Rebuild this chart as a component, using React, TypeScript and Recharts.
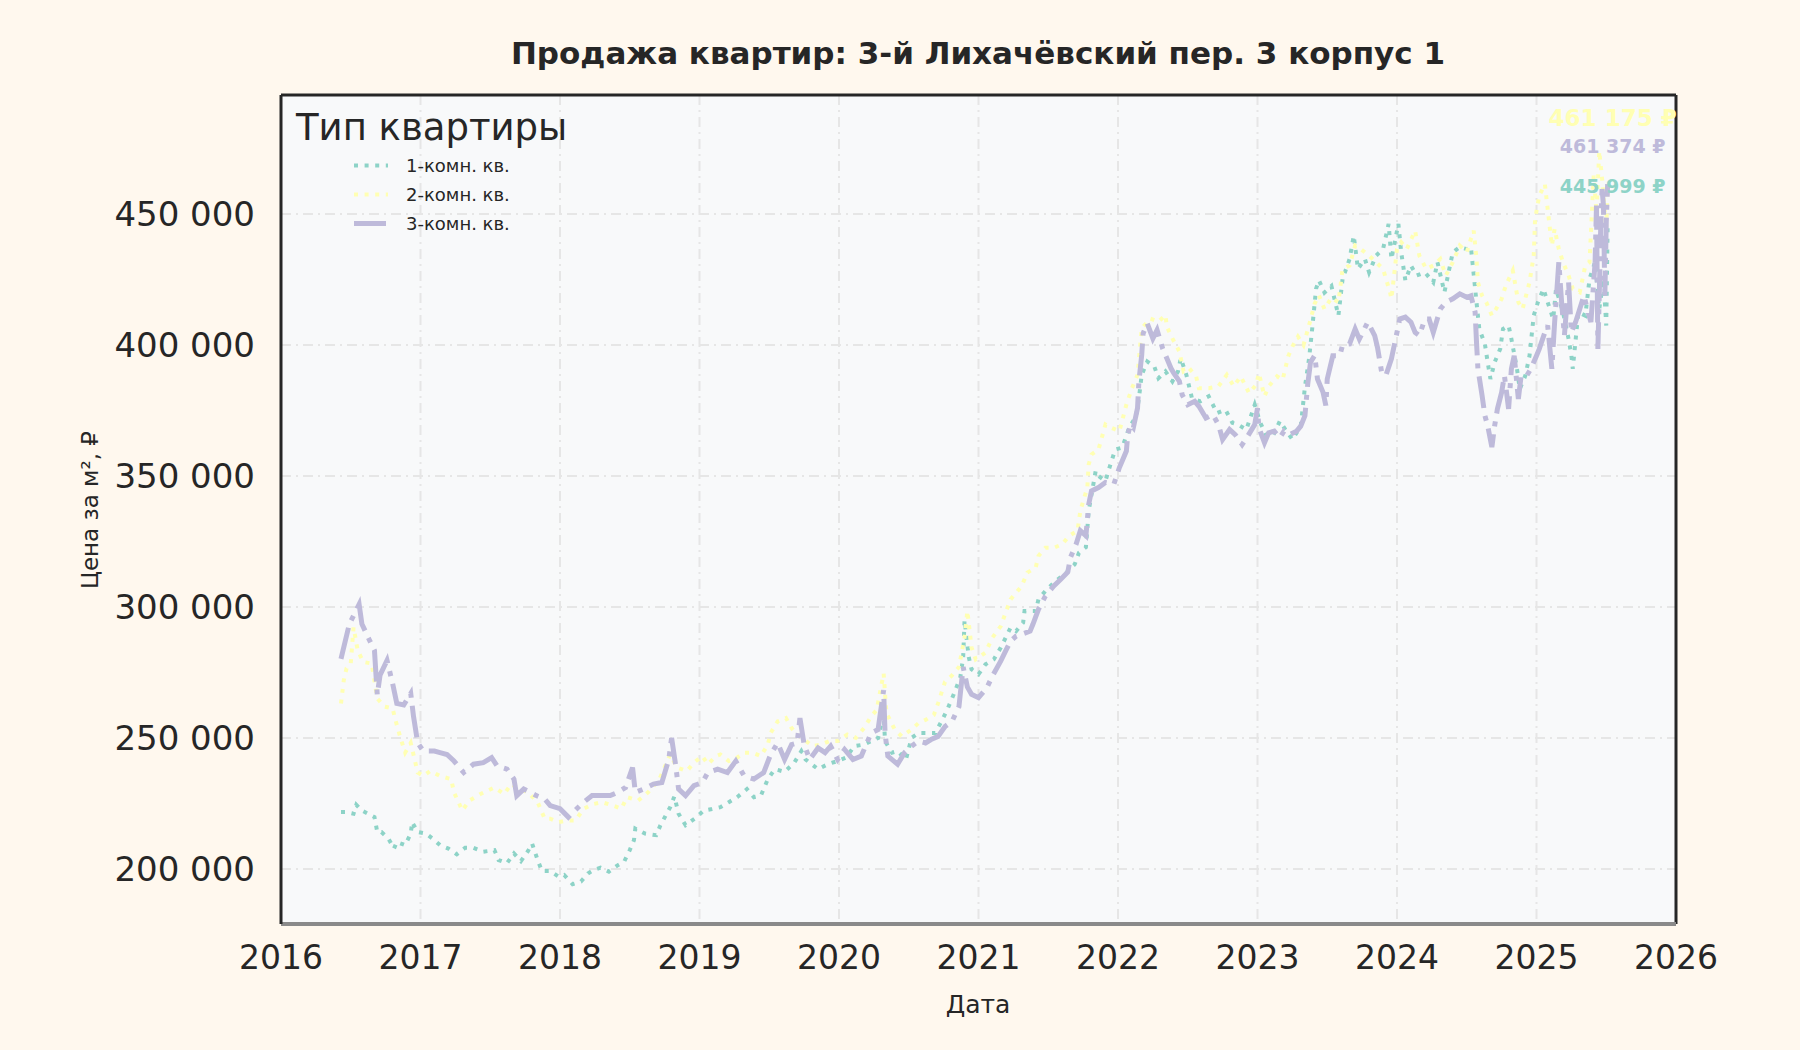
import { LineChart, Line, XAxis, YAxis, CartesianGrid, ReferenceLine } from "recharts";

const FONT = "'DejaVu Sans', sans-serif";

const YEAR_TICKS = [2016, 2017, 2018, 2019, 2020, 2021, 2022, 2023, 2024, 2025, 2026];
const PRICE_TICKS = [200000, 250000, 300000, 350000, 400000, 450000];
const X_DOMAIN = [2016, 2026];
const Y_DOMAIN = [179000, 495400];

// 1-комн. кв.
const oneRoomDates = [
  2016.43, 2016.47, 2016.52, 2016.54, 2016.58, 2016.67, 2016.69, 2016.72, 2016.77, 2016.81, 2016.83, 2016.89,
  2016.93, 2016.94, 2016.98, 2017.04, 2017.1, 2017.14, 2017.2, 2017.26, 2017.32, 2017.38, 2017.45, 2017.53,
  2017.56, 2017.62, 2017.67, 2017.72, 2017.77, 2017.8, 2017.84, 2017.87, 2017.93, 2017.99, 2018.03, 2018.09,
  2018.15, 2018.2, 2018.24, 2018.29, 2018.35, 2018.41, 2018.46, 2018.5, 2018.53, 2018.54, 2018.61, 2018.69,
  2018.72, 2018.79, 2018.82, 2018.85, 2018.9, 2018.98, 2019.03, 2019.09, 2019.15, 2019.21, 2019.27, 2019.34,
  2019.39, 2019.44, 2019.49, 2019.54, 2019.61, 2019.68, 2019.73, 2019.76, 2019.85, 2019.92, 2019.99, 2020.05,
  2020.11, 2020.18, 2020.23, 2020.28, 2020.32, 2020.33, 2020.38, 2020.42, 2020.48, 2020.52, 2020.57, 2020.63,
  2020.69, 2020.74, 2020.78, 2020.83, 2020.87, 2020.89, 2020.9, 2020.93, 2020.95, 2021.0, 2021.05, 2021.11,
  2021.16, 2021.23, 2021.27, 2021.32, 2021.33, 2021.41, 2021.43, 2021.48, 2021.54, 2021.63, 2021.69, 2021.72,
  2021.77, 2021.79, 2021.84, 2021.86, 2021.91, 2021.95, 2021.98, 2022.03, 2022.08, 2022.13, 2022.15, 2022.17,
  2022.21, 2022.26, 2022.29, 2022.34, 2022.39, 2022.43, 2022.45, 2022.49, 2022.53, 2022.59, 2022.65, 2022.71,
  2022.77, 2022.82, 2022.86, 2022.92, 2022.98, 2023.02, 2023.06, 2023.11, 2023.16, 2023.2, 2023.25, 2023.31,
  2023.34, 2023.37, 2023.39, 2023.42, 2023.44, 2023.48, 2023.53, 2023.58, 2023.61, 2023.66, 2023.69, 2023.72,
  2023.77, 2023.8, 2023.85, 2023.9, 2023.94, 2023.96, 2024.01, 2024.03, 2024.06, 2024.1, 2024.14, 2024.2,
  2024.26, 2024.29, 2024.34, 2024.4, 2024.45, 2024.5, 2024.53, 2024.57, 2024.59, 2024.63, 2024.65, 2024.67,
  2024.7, 2024.74, 2024.76, 2024.8, 2024.82, 2024.86, 2024.88, 2024.92, 2024.95, 2024.98, 2025.01, 2025.05,
  2025.08, 2025.12, 2025.14, 2025.19, 2025.23, 2025.25, 2025.26, 2025.3, 2025.35, 2025.38, 2025.42, 2025.45,
  2025.48, 2025.5, 2025.51,
];
const oneRoomPrices = [
  221700, 221700, 221100, 224500, 222300, 219800, 214100, 214100, 211600, 207800, 210300, 209100,
  213500, 217900, 214100, 213500, 211000, 209100, 207800, 205600, 208100, 208100, 206600, 207200,
  203400, 202200, 205900, 203000, 206800, 209700, 203400, 199200, 199200, 197100, 197700, 194200,
  195200, 198300, 199600, 200500, 199000, 201300, 202800, 207200, 211000, 215400, 213500, 212900,
  216700, 223600, 227700, 221100, 216700, 219800, 222300, 222900, 223600, 225500, 227400, 230500,
  227400, 228000, 234300, 238100, 237100, 240600, 245000, 241800, 238100, 240000, 241200, 242500,
  246900, 247500, 248800, 250000, 258800, 248800, 244400, 245000, 241800, 250000, 251900, 251900,
  251900, 256900, 261300, 267600, 273300, 280700, 295000, 280900, 276200, 274300, 278100, 280000,
  284500, 292100, 290800, 294000, 298500, 298500, 302900, 306100, 309300, 313100, 316300, 320700,
  322800, 336700, 351900, 350000, 348100, 355100, 360100, 360800, 368400, 372800, 379700, 388600,
  393700, 391800, 387300, 389900, 386100, 389900, 394900, 388600, 379700, 378500, 380400, 374000,
  375300, 370300, 369600, 367700, 377200, 370300, 365800, 365200, 370900, 367700, 363900, 369000,
  384000, 395000, 405100, 421500, 424700, 420000, 422500, 411200, 425200, 432800, 441700, 429000,
  432800, 427700, 434100, 436600, 446200, 432800, 446200, 435400, 424600, 430300, 426500, 427700,
  423900, 431600, 420100, 435400, 437300, 436600, 437300, 416300, 406100, 400400, 393400, 387000,
  393400, 398500, 406100, 407400, 402300, 390900, 383200, 388300, 395900, 411200, 416300, 421400,
  416300, 409900, 421400, 412500, 402300, 395900, 390900, 412500, 411200, 425200, 431600, 413700,
  425200, 407400, 445999,
];

// 2-комн. кв.
const twoRoomDates = [
  2016.43, 2016.45, 2016.47, 2016.5, 2016.52, 2016.55, 2016.59, 2016.65, 2016.69, 2016.74, 2016.8, 2016.82,
  2016.86, 2016.89, 2016.93, 2016.98, 2017.02, 2017.07, 2017.14, 2017.22, 2017.24, 2017.3, 2017.35, 2017.43,
  2017.53, 2017.6, 2017.65, 2017.69, 2017.77, 2017.84, 2017.89, 2017.93, 2017.99, 2018.05, 2018.11, 2018.17,
  2018.24, 2018.3, 2018.38, 2018.44, 2018.48, 2018.56, 2018.63, 2018.71, 2018.79, 2018.84, 2018.91, 2018.96,
  2019.02, 2019.06, 2019.12, 2019.15, 2019.21, 2019.27, 2019.32, 2019.38, 2019.44, 2019.49, 2019.51, 2019.56,
  2019.62, 2019.66, 2019.7, 2019.75, 2019.81, 2019.87, 2019.93, 2019.99, 2020.06, 2020.12, 2020.18, 2020.23,
  2020.27, 2020.32, 2020.34, 2020.4, 2020.45, 2020.52, 2020.57, 2020.62, 2020.68, 2020.71, 2020.76, 2020.81,
  2020.86, 2020.9, 2020.92, 2020.95, 2020.98, 2021.05, 2021.1, 2021.16, 2021.19, 2021.23, 2021.25, 2021.31,
  2021.35, 2021.41, 2021.43, 2021.48, 2021.54, 2021.6, 2021.65, 2021.71, 2021.73, 2021.78, 2021.79, 2021.81,
  2021.86, 2021.91, 2021.95, 2022.01, 2022.06, 2022.1, 2022.14, 2022.17, 2022.23, 2022.29, 2022.34, 2022.35,
  2022.39, 2022.44, 2022.47, 2022.51, 2022.56, 2022.58, 2022.65, 2022.72, 2022.78, 2022.83, 2022.88, 2022.94,
  2022.99, 2023.01, 2023.05, 2023.08, 2023.14, 2023.18, 2023.22, 2023.25, 2023.29, 2023.33, 2023.37, 2023.41,
  2023.44, 2023.48, 2023.53, 2023.58, 2023.61, 2023.66, 2023.7, 2023.74, 2023.8, 2023.85, 2023.9, 2023.95,
  2023.96, 2024.0, 2024.03, 2024.07, 2024.13, 2024.16, 2024.21, 2024.26, 2024.31, 2024.35, 2024.4, 2024.45,
  2024.5, 2024.53, 2024.55, 2024.57, 2024.58, 2024.61, 2024.64, 2024.68, 2024.71, 2024.75, 2024.78, 2024.83,
  2024.87, 2024.9, 2024.95, 2024.98, 2024.99, 2025.02, 2025.06, 2025.08, 2025.11, 2025.13, 2025.16, 2025.19,
  2025.23, 2025.26, 2025.31, 2025.35, 2025.38, 2025.41, 2025.43, 2025.45, 2025.47, 2025.5, 2025.51,
];
const twoRoomPrices = [
  263200, 272000, 276600, 278400, 292200, 283400, 279000, 278400, 265100, 262000, 261300, 256900,
  249400, 244400, 248100, 236800, 235500, 237400, 235500, 234300, 229200, 222300, 226100, 228600,
  231100, 228600, 232400, 231100, 229200, 225500, 219200, 219200, 217900, 218500, 218500, 223000,
  224800, 225500, 224200, 223000, 227400, 226100, 229200, 234000, 243700, 238700, 237400, 240600,
  243100, 240000, 243100, 243700, 241200, 242500, 244400, 244400, 243100, 247500, 251900, 256300,
  257600, 253800, 251300, 249400, 246900, 247500, 248800, 248800, 251300, 250000, 253800, 258200,
  260700, 274600, 259500, 253200, 250600, 253200, 255700, 256900, 258800, 263200, 271400, 273900,
  277100, 288400, 298500, 284600, 280000, 282600, 288300, 292700, 297200, 302900, 304200, 308000,
  313100, 315000, 319500, 322600, 322600, 323900, 327200, 329100, 336700, 345600, 354400, 358200,
  360100, 369600, 368400, 367100, 377200, 383500, 388600, 406300, 410100, 408900, 411400, 407000,
  402500, 397500, 389900, 391100, 388000, 383500, 383500, 384200, 388600, 384200, 388000, 381600,
  384800, 389200, 380400, 384200, 388000, 386700, 395600, 399400, 403200, 400000, 407600, 415800,
  419000, 413700, 418000, 416300, 429000, 430300, 437900, 436600, 434100, 431600, 429000, 420100,
  417600, 436600, 439200, 436600, 443600, 434100, 429000, 430300, 432800, 426500, 431600, 437900,
  435400, 440500, 443600, 432800, 423900, 418800, 416300, 411200, 413700, 417600, 422700, 428400,
  416300, 413700, 423900, 434100, 448100, 457000, 461400, 451900, 437900, 444300, 436600, 431600,
  426500, 421400, 420100, 430300, 431600, 464600, 450600, 474000, 463400, 444300, 461175,
];

// 3-комн. кв.
const threeRoomDates = [
  2016.43, 2016.49, 2016.56, 2016.58, 2016.63, 2016.67, 2016.69, 2016.71, 2016.76, 2016.8, 2016.83, 2016.88,
  2016.93, 2016.95, 2016.98, 2017.02, 2017.1, 2017.14, 2017.19, 2017.24, 2017.31, 2017.38, 2017.45, 2017.51,
  2017.55, 2017.62, 2017.67, 2017.69, 2017.74, 2017.79, 2017.83, 2017.89, 2017.93, 2018.0, 2018.06, 2018.12,
  2018.17, 2018.23, 2018.29, 2018.36, 2018.41, 2018.47, 2018.52, 2018.54, 2018.6, 2018.67, 2018.73, 2018.78,
  2018.8, 2018.83, 2018.85, 2018.9, 2018.96, 2019.02, 2019.06, 2019.13, 2019.2, 2019.26, 2019.32, 2019.39,
  2019.46, 2019.51, 2019.56, 2019.61, 2019.66, 2019.7, 2019.72, 2019.75, 2019.79, 2019.85, 2019.9, 2019.94,
  2019.99, 2020.04, 2020.1, 2020.16, 2020.23, 2020.28, 2020.32, 2020.33, 2020.35, 2020.42, 2020.47, 2020.52,
  2020.57, 2020.62, 2020.66, 2020.71, 2020.76, 2020.81, 2020.86, 2020.89, 2020.92, 2020.95, 2021.0, 2021.06,
  2021.1, 2021.16, 2021.2, 2021.23, 2021.27, 2021.31, 2021.37, 2021.39, 2021.43, 2021.48, 2021.54, 2021.59,
  2021.64, 2021.66, 2021.7, 2021.73, 2021.77, 2021.79, 2021.81, 2021.86, 2021.91, 2021.97, 2022.01, 2022.03,
  2022.06, 2022.07, 2022.09, 2022.11, 2022.14, 2022.15, 2022.17, 2022.18, 2022.21, 2022.25, 2022.28, 2022.32,
  2022.35, 2022.38, 2022.4, 2022.44, 2022.46, 2022.5, 2022.55, 2022.58, 2022.63, 2022.68, 2022.72, 2022.75,
  2022.8, 2022.84, 2022.89, 2022.93, 2022.98, 2023.0, 2023.01, 2023.05, 2023.08, 2023.12, 2023.16, 2023.19,
  2023.23, 2023.28, 2023.31, 2023.34, 2023.36, 2023.38, 2023.41, 2023.43, 2023.47, 2023.49, 2023.5, 2023.54,
  2023.59, 2023.61, 2023.66, 2023.7, 2023.73, 2023.79, 2023.84, 2023.86, 2023.89, 2023.92, 2023.96, 2023.98,
  2024.02, 2024.06, 2024.1, 2024.13, 2024.16, 2024.2, 2024.23, 2024.26, 2024.31, 2024.35, 2024.4, 2024.45,
  2024.5, 2024.53, 2024.56, 2024.57, 2024.58, 2024.61, 2024.63, 2024.65, 2024.68, 2024.7, 2024.72, 2024.75,
  2024.77, 2024.8, 2024.82, 2024.84, 2024.87, 2024.89, 2024.93, 2024.96, 2025.0, 2025.02, 2025.06, 2025.08,
  2025.11, 2025.13, 2025.16, 2025.18, 2025.2, 2025.23, 2025.25, 2025.28, 2025.31, 2025.34, 2025.37, 2025.39,
  2025.42, 2025.43, 2025.44, 2025.45, 2025.46, 2025.47, 2025.48, 2025.49, 2025.5, 2025.51,
];
const threeRoomPrices = [
  280200, 293500, 301000, 293500, 287800, 283400, 266400, 274000, 279600, 270800, 263200, 262600,
  267000, 258200, 248100, 245000, 245000, 244400, 243700, 241200, 236800, 240000, 240600, 242500,
  239300, 238100, 234300, 228000, 230500, 229200, 228000, 226700, 224200, 223000, 219800, 223000,
  225500, 228000, 228000, 228000, 229200, 231100, 238700, 229200, 230500, 232400, 233000, 241800,
  250000, 239300, 230500, 228000, 231800, 233000, 236800, 238100, 236800, 241200, 235500, 234300,
  236800, 243700, 248100, 241800, 247500, 248100, 257600, 247500, 241800, 246200, 244400, 246900,
  241800, 245600, 241800, 243100, 251900, 253200, 268300, 251900, 243100, 240000, 244400, 246900,
  248800, 248100, 249400, 250600, 254400, 256300, 262000, 277100, 269500, 266700, 265400, 269200,
  273700, 279400, 283800, 287000, 288900, 289600, 290800, 293400, 299100, 304200, 308000, 310600,
  313300, 319000, 324000, 329100, 327200, 339200, 344300, 345600, 347500, 346800, 353200, 355700,
  359500, 365800, 369600, 368400, 375900, 386100, 396200, 404400, 408200, 402500, 405700, 398700,
  394900, 391100, 389200, 386100, 381000, 377200, 378500, 376600, 372100, 373400, 369600, 363900,
  367700, 365800, 362000, 365200, 369600, 375900, 368400, 362700, 366500, 367100, 364600, 367100,
  365800, 367100, 369000, 373000, 385000, 393400, 396000, 387000, 381900, 376900, 387000, 395900,
  395900, 400000, 400400, 406100, 402300, 408700, 403600, 399100, 389600, 388300, 394700, 399800,
  409900, 410600, 408700, 404800, 403600, 409900, 409900, 404800, 413700, 416300, 417600, 419500,
  418200, 418800, 412500, 401000, 390900, 380700, 373000, 369200, 361000, 369200, 375600, 381900,
  388300, 375600, 390900, 395900, 379400, 388300, 388300, 390900, 395900, 398500, 404800, 407400,
  390900, 408700, 431600, 416300, 403600, 423900, 404800, 408700, 413700, 418800, 412500, 408700,
  431600, 453200, 398500, 418800, 444300, 459500, 453200, 418800, 446800, 461374,
];

const toRows = (dates: number[], prices: number[]) => dates.map((t, i) => ({ t, price: prices[i] }));

const SERIES = [
  {
    name: "1-комн. кв.",
    color: "#8dd3c7",
    width: 4,
    dash: "4 6.6",
    rows: toRows(oneRoomDates, oneRoomPrices),
    labelDy: -38,
    labelSize: 19,
  },
  {
    name: "2-комн. кв.",
    color: "#ffffb3",
    width: 4,
    dash: "4 6.6",
    rows: toRows(twoRoomDates, twoRoomPrices),
    labelDy: -67,
    labelSize: 23,
  },
  {
    name: "3-комн. кв.",
    color: "#bebada",
    width: 5,
    dash: "32 8 5 8",
    rows: toRows(threeRoomDates, threeRoomPrices),
    labelDy: -38,
    labelSize: 19,
  },
];

const fmt = (v: number) => {
  const s = String(Math.round(v));
  return s.replace(/\B(?=(\d{3})+(?!\d))/g, " ");
};

function endLabel(s: (typeof SERIES)[number]) {
  const last = s.rows.length - 1;
  return (props: any) => {
    if (props.index !== last) return <g />;
    return (
      <text
        x={props.x + 5}
        y={props.y + s.labelDy}
        textAnchor="middle"
        dominantBaseline="central"
        fill={s.color}
        fontFamily={FONT}
        fontWeight="bold"
        fontSize={s.labelSize}
      >
        {fmt(s.rows[last].price)} ₽
      </text>
    );
  };
}

function LegendBox() {
  return (
    <div style={{ fontFamily: FONT, color: "#262626" }}>
      <div style={{ fontSize: 37, lineHeight: "40px", whiteSpace: "nowrap" }}>Тип квартиры</div>
      <div style={{ marginTop: 3 }}>
        {SERIES.map((s) => (
          <div key={s.name} style={{ height: 29, display: "flex", alignItems: "center" }}>
            <svg width={110} height={29}>
              <line
                x1={58}
                x2={92}
                y1={14.5}
                y2={14.5}
                stroke={s.color}
                strokeWidth={s.width}
                strokeDasharray={s.dash}
              />
            </svg>
            <span style={{ fontSize: 18, whiteSpace: "nowrap" }}>{s.name}</span>
          </div>
        ))}
      </div>
    </div>
  );
}

export default function App() {
  return (
    <div
      style={{
        position: "absolute",
        left: 0,
        top: 0,
        width: 1800,
        height: 1050,
        background: "#fff8ee",
        fontFamily: FONT,
      }}
    >
      <div
        style={{
          position: "absolute",
          top: 35,
          left: 0,
          width: 1956,
          textAlign: "center",
          fontSize: 31,
          fontWeight: "bold",
          color: "#262626",
          whiteSpace: "nowrap",
        }}
      >
        Продажа квартир: 3-й Лихачёвский пер. 3 корпус 1
      </div>
      <div
        style={{
          position: "absolute",
          left: 90,
          top: 510,
          transform: "translate(-50%, -50%) rotate(-90deg)",
          fontSize: 23,
          color: "#262626",
          whiteSpace: "nowrap",
        }}
      >
        Цена за м², ₽
      </div>
      <div
        style={{
          position: "absolute",
          left: 978,
          top: 1004,
          transform: "translate(-50%, -50%)",
          fontSize: 25,
          color: "#262626",
        }}
      >
        Дата
      </div>
      <div style={{ position: "absolute", left: 0, top: 0 }}>
        <LineChart width={1800} height={1050} margin={{ top: 95, right: 124, bottom: 66, left: 121 }}>
          <CartesianGrid
            fill="#f8f9fa"
            stroke="#e6e6e6"
            strokeWidth={2}
            strokeDasharray="10 5 2 5"
          />
          <XAxis
            dataKey="t"
            type="number"
            domain={X_DOMAIN}
            ticks={YEAR_TICKS}
            allowDataOverflow
            height={60}
            tickLine={false}
            tickSize={8}
            tickMargin={14}
            axisLine={{ stroke: "#8a8a8a", strokeWidth: 4 }}
            tick={{ fontSize: 33, fill: "#262626", fontFamily: FONT }}
          />
          <YAxis
            type="number"
            domain={Y_DOMAIN}
            ticks={PRICE_TICKS}
            allowDataOverflow
            width={160}
            tickLine={false}
            tickSize={10}
            tickMargin={16}
            tickFormatter={fmt}
            axisLine={{ stroke: "#262626", strokeWidth: 3 }}
            tick={{ fontSize: 34, fill: "#262626", fontFamily: FONT }}
          />
          <ReferenceLine y={Y_DOMAIN[1]} stroke="#262626" strokeWidth={3} />
          <ReferenceLine x={X_DOMAIN[1]} stroke="#262626" strokeWidth={3} />
          {SERIES.map((s) => (
            <Line
              key={s.name}
              name={s.name}
              data={s.rows}
              dataKey="price"
              type="linear"
              stroke={s.color}
              strokeWidth={s.width}
              strokeDasharray={s.dash}
              dot={false}
              activeDot={false}
              isAnimationActive={false}
              label={endLabel(s)}
            />
          ))}
        </LineChart>
      </div>
      <div style={{ position: "absolute", left: 296, top: 108 }}>
        <LegendBox />
      </div>
    </div>
  );
}
